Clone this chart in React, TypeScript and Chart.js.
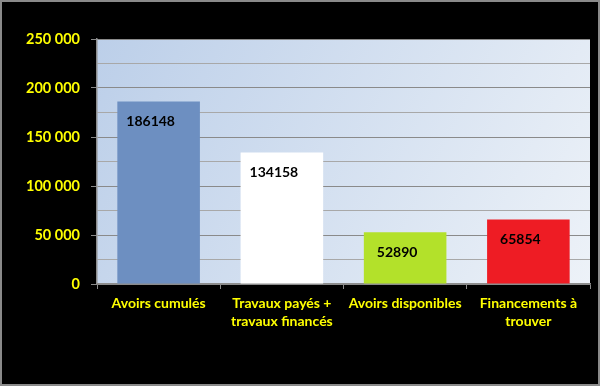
import React, { useEffect, useRef } from "react";
import { Chart, registerables } from "chart.js";

Chart.register(...registerables);

const categories: (string | string[])[] = [
  "Avoirs cumulés",
  ["Travaux payés +", "travaux financés"],
  "Avoirs disponibles",
  ["Financements à", "trouver"],
];
const values = [186148, 134158, 52890, 65854];
const barColors = ["#6d8fc1", "#ffffff", "#b3e12a", "#ee1c24"];
const yMin = 0;
const yMax = 250000;
const yStep = 25000;

const fmt = (v: number) => String(v).replace(/\B(?=(\d{3})+(?!\d))/g, " ");

export default function App() {
  const ref = useRef<HTMLCanvasElement>(null);
  useEffect(() => {
    if (!ref.current) return;
    const bgPlugin = {
      id: "bg",
      beforeDraw(chart: any) {
        const { ctx, chartArea: a, width, height } = chart;
        ctx.save();
        ctx.fillStyle = "#000000";
        ctx.fillRect(0, 0, width, height);
        ctx.strokeStyle = "#8a8a8a";
        ctx.lineWidth = 2;
        ctx.strokeRect(1, 1, width - 2, height - 2);
        const g = ctx.createLinearGradient(a.left, a.top, a.right, a.bottom);
        g.addColorStop(0, "#bccfe9");
        g.addColorStop(1, "#edf2f8");
        ctx.fillStyle = g;
        ctx.fillRect(a.left, a.top, a.right - a.left, a.bottom - a.top);
        ctx.restore();
      },
    };
    const labelPlugin = {
      id: "vals",
      afterDatasetsDraw(chart: any) {
        const { ctx } = chart;
        const meta = chart.getDatasetMeta(0);
        ctx.save();
        ctx.font = "bold 14px Lato";
        ctx.fillStyle = "#000000";
        ctx.textAlign = "center";
        ctx.textBaseline = "middle";
        meta.data.forEach((bar: any, i: number) => {
          ctx.fillText(String(values[i]), bar.x - 8, bar.y + 20);
        });
        ctx.restore();
      },
    };
    const chart = new Chart(ref.current, {
      type: "bar",
      data: {
        labels: categories,
        datasets: [
          {
            data: values,
            backgroundColor: barColors,
            borderWidth: 0,
            barPercentage: 0.67,
            categoryPercentage: 1,
          },
        ],
      },
      options: {
        animation: false,
        responsive: false,
        maintainAspectRatio: false,
        layout: { padding: { top: 39, right: 10, left: 0, bottom: 0 } },
        plugins: { legend: { display: false }, tooltip: { enabled: false } },
        scales: {
          x: {
            afterFit(scale: any) {
              scale.height = 102;
            },
            grid: {
              offset: true,
              drawOnChartArea: false,
              drawTicks: true,
              tickLength: 5,
              color: "#8c8c8c",
            },
            border: { color: "#8c8c8c", width: 1.5 },
            ticks: {
              color: "#ffff00",
              font: { family: "Lato", weight: "bold", size: 14, lineHeight: 1.25 },
              padding: 6,
              maxRotation: 0,
              autoSkip: false,
            },
          },
          y: {
            min: yMin,
            max: yMax,
            afterFit(scale: any) {
              scale.width = 97;
            },
            grid: {
              color: (c: any) => (c.tick && c.tick.value % 50000 === 0 ? "#8a8a8a" : "#a8a8a8"),
              tickColor: (c: any) => (c.tick && c.tick.value % 50000 === 0 ? "#8a8a8a" : "rgba(0,0,0,0)"),
              lineWidth: 1,
              tickLength: 6,
            },
            border: { color: "#8c8c8c", width: 1.5 },
            ticks: {
              stepSize: yStep,
              color: "#ffff00",
              font: { family: "Lato", weight: "bold", size: 14.5 },
              padding: 11,
              callback: (v: any) => (Number(v) % 50000 === 0 ? fmt(Number(v)) : ""),
            },
          },
        },
      } as any,
      plugins: [bgPlugin, labelPlugin],
    });
    return () => chart.destroy();
  }, []);
  return (
    <div style={{ position: "fixed", left: 0, top: 0, width: 600, height: 386 }}>
      <canvas ref={ref} width={600} height={386} style={{ display: "block" }} />
    </div>
  );
}
